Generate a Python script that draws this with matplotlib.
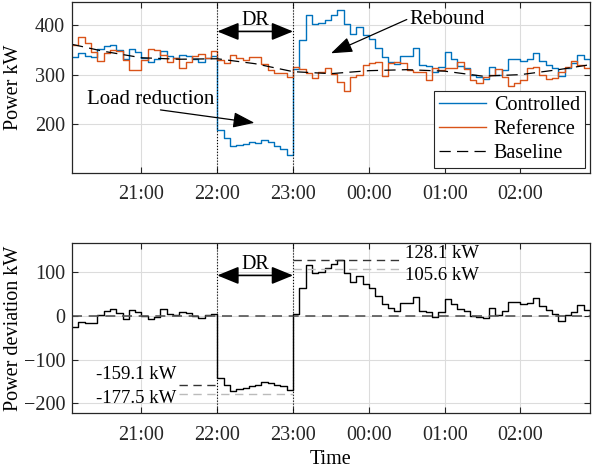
import numpy as np
import matplotlib
matplotlib.use('Agg')
import matplotlib.pyplot as plt

plt.rcParams['font.family'] = ['Liberation Serif', 'DejaVu Serif']
plt.rcParams['font.size'] = 14.5
plt.rcParams['mathtext.fontset'] = 'stix'

# time axis: hours after 20:00, one sample every 5 min from 20:05 to 02:55
t_start = 5 / 60
t_step = 5 / 60
n_steps = 83

# controlled load, kW
controlled = [336, 344, 338, 336, 352, 358, 360, 350, 332, 351, 345, 334, 325, 331, 347, 337, 333, 340, 338, 331,
              326, 334, 337,
              189, 173, 157, 159, 161, 164, 163, 168, 164, 157, 151, 139,
              311, 369, 421, 402, 403, 411, 421, 431, 402, 382, 396, 380, 372, 353, 336, 326, 321, 338, 338, 353,
              320, 318, 306, 316, 345, 331, 318, 313, 300, 296, 292, 316, 300, 309, 331, 331, 327, 332, 344, 328,
              320, 313, 298, 314, 323, 340, 331, 314]

# reference load (no control), kW
reference = [360, 376, 364, 345, 328, 343, 350, 348, 330, 310, 310, 330, 351, 350, 340, 326, 333, 313, 326, 337,
             342, 334, 347,
             330, 324, 340, 333, 330, 335, 335, 322, 310, 304, 304, 296,
             315, 311, 304, 293, 306, 313, 302, 286, 268, 296, 300, 320, 323, 326, 297, 323, 326, 324, 310, 306,
             306, 289, 313, 310, 313, 313, 326, 311, 289, 284, 296, 300, 311, 295, 277, 284, 289, 313, 316, 300,
             291, 293, 306, 316, 328, 320, 313, 313]

# deviation of controlled load from baseline, kW
deviation = [-25, -14, -17, -17, 2, 11, 15, 7, -8, 13, 9, 0, -8, -2, 15, 5, 2, 9, 7, 0,
             -6, 2, 5,
             -143, -157, -172, -168, -164, -160, -159, -151, -153, -157, -160, -170,
             5, 64, 116, 98, 100, 108, 119, 128.1, 98, 77, 90, 73, 64, 45, 27, 17, 11, 28, 28, 43,
             11, 9, -2, 9, 38, 26, 15, 11, 0, -2, -5, 18, 2, 11, 32, 32, 27, 30, 41, 23,
             13, 5, -12, 2, 9, 24, 13, -6]

# baseline estimate, kW (smooth curve)
baseline_t = [5, 30, 60, 90, 120, 150, 180, 210, 240, 270, 300, 330, 360, 390, 415]
baseline_kw = [361, 347, 334, 331, 332, 322, 306, 302, 308, 310, 307, 297, 300, 310, 320]

dr_start, dr_end = 2.0, 3.0
dev_stats = {'max': 128.1, 'rebound': 105.6, 'dr_mean': -159.1, 'dr_min': -177.5}

tick_hours = [1, 2, 3, 4, 5, 6]
tick_labels = ['21:00', '22:00', '23:00', '00:00', '01:00', '02:00']

t = t_start + t_step * np.arange(n_steps)
tb = np.array(baseline_t) / 60

c_blue = '#0072BD'
c_orange = '#D95319'
c_axis = '#262626'
fs = 14.5

fig = plt.figure(figsize=(5.92, 4.72), dpi=100)
ax1 = fig.add_axes([0.1216, 0.6335, 0.875, 0.362])
ax2 = fig.add_axes([0.1216, 0.125, 0.875, 0.3602])


def style_axis(ax, ylim, yticks):
    ax.set_xlim(t[0], t[-1])
    ax.set_ylim(*ylim)
    ax.set_xticks(tick_hours)
    ax.set_xticklabels(tick_labels)
    ax.set_yticks(yticks)
    ax.grid(True, color='#dcdcdc', linewidth=0.8)
    ax.set_axisbelow(True)
    ax.tick_params(direction='in', top=True, right=True, length=4, width=0.8,
                   colors=c_axis, labelsize=fs)
    ax.tick_params(axis='x', pad=9)
    ax.tick_params(axis='y', pad=5)
    for s in ax.spines.values():
        s.set_color(c_axis)
        s.set_linewidth(0.9)
    ax.yaxis.set_label_coords(-0.094, 0.5)


def double_arrow(ax, y):
    ax.annotate('', xy=(dr_start, y), xytext=(dr_end, y),
                arrowprops=dict(arrowstyle='<|-|>,head_length=1.1,head_width=0.45',
                                color='k', lw=1.2, mutation_scale=12,
                                shrinkA=0, shrinkB=0))


def pointer(ax, tail, head):
    ax.annotate('', xy=head, xytext=tail,
                arrowprops=dict(arrowstyle='-|>,head_length=1.1,head_width=0.4',
                                color='k', lw=0.9, mutation_scale=12,
                                shrinkA=0, shrinkB=0))


# ---- top: power ----
ax1.step(t, controlled, where='post', color=c_blue, lw=1.0, label='Controlled')
ax1.step(t, reference, where='post', color=c_orange, lw=1.0, label='Reference')
ax1.plot(tb, baseline_kw, color='k', lw=0.9, ls=(0, (9, 5)), label='Baseline')
for x in (dr_start, dr_end):
    ax1.axvline(x, color='k', lw=0.8, ls=':')
style_axis(ax1, (102, 446), [200, 300, 400])
ax1.set_ylabel('Power kW')

double_arrow(ax1, 387)
ax1.text((dr_start + dr_end) / 2, 399, 'DR', ha='center', va='baseline', fontsize=fs)

ax1.text(1.12, 250, 'Load reduction', ha='center', va='center', fontsize=15)
pointer(ax1, (1.25, 229), (2.49, 203))
ax1.text(5.03, 412, 'Rebound', ha='center', va='center', fontsize=15)
pointer(ax1, (4.50, 411), (3.50, 343))

leg = ax1.legend(loc='lower right', fontsize=fs, frameon=True, fancybox=False,
                 edgecolor=c_axis, framealpha=1, borderpad=0.25, labelspacing=0.25,
                 handlelength=2.3, handletextpad=0.4, borderaxespad=0.25)
leg.get_frame().set_linewidth(0.8)

# ---- bottom: deviation ----
ax2.step(t, deviation, where='post', color='k', lw=1.0)
ax2.axhline(0, color='#555555', lw=1.2, ls=(0, (6, 4)))
for x in (dr_start, dr_end):
    ax2.axvline(x, color='k', lw=0.8, ls=':')

ax2.plot([1.50, dr_start], [dev_stats['dr_mean']] * 2, color='#333333', lw=1.0, ls=(0, (6, 4)))
ax2.plot([1.50, dr_end], [dev_stats['dr_min']] * 2, color='#bbbbbb', lw=1.0, ls=(0, (6, 4)))
ax2.plot([dr_end, 4.45], [dev_stats['max']] * 2, color='#333333', lw=1.0, ls=(0, (6, 4)))
ax2.plot([dr_end, 4.45], [dev_stats['rebound']] * 2, color='#bbbbbb', lw=1.0, ls=(0, (6, 4)))

fs_kw = 13.5
ax2.text(1.46, dev_stats['dr_mean'] + 24, '%.1f kW' % dev_stats['dr_mean'],
         ha='right', va='center', fontsize=fs_kw)
ax2.text(1.46, dev_stats['dr_min'] - 12, '%.1f kW' % dev_stats['dr_min'],
         ha='right', va='center', fontsize=fs_kw)
ax2.text(4.47, dev_stats['max'] + 14, '%.1f kW' % dev_stats['max'],
         ha='left', va='center', fontsize=fs_kw)
ax2.text(4.47, dev_stats['rebound'] - 14, '%.1f kW' % dev_stats['rebound'],
         ha='left', va='center', fontsize=fs_kw)

double_arrow(ax2, 92)
ax2.text((dr_start + dr_end) / 2, 106, 'DR', ha='center', va='baseline', fontsize=fs)

style_axis(ax2, (-222, 166), [-200, -100, 0, 100])
ax2.set_ylabel('Power deviation kW')
ax2.set_xlabel('Time', labelpad=4)

fig.savefig('out.png', dpi=100)
